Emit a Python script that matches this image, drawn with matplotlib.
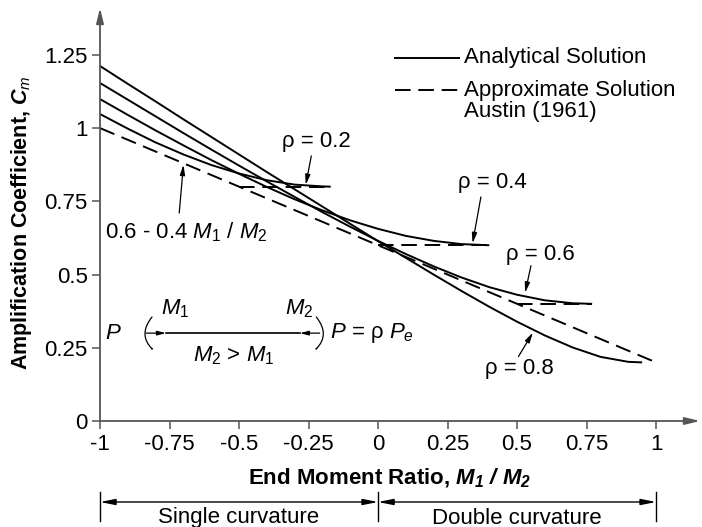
import matplotlib.pyplot as plt
from matplotlib import transforms
from matplotlib.patches import FancyArrowPatch

plt.rcParams['font.family'] = ['Liberation Sans', 'DejaVu Sans']
plt.rcParams['mathtext.fontset'] = 'custom'
plt.rcParams['mathtext.rm'] = 'Liberation Sans'
plt.rcParams['mathtext.it'] = 'Liberation Sans:italic'
plt.rcParams['mathtext.bf'] = 'Liberation Sans:bold'
plt.rcParams['mathtext.bfit'] = 'Liberation Sans:bold:italic'

# analytical solution curves (end moment ratio, Cm)
r_02 = [-1.0, -0.9, -0.8, -0.7, -0.6, -0.5, -0.4, -0.3, -0.2, -0.17]
cm_02 = [1.048, 0.998, 0.951, 0.910, 0.874, 0.845, 0.822, 0.807, 0.801, 0.800]

r_04 = [-1.0, -0.9, -0.8, -0.7, -0.6, -0.5, -0.4, -0.3, -0.2, -0.1, 0.0, 0.1, 0.2, 0.3, 0.4]
cm_04 = [1.099, 1.045, 0.992, 0.941, 0.891, 0.844, 0.799, 0.757, 0.719, 0.685, 0.656,
         0.632, 0.615, 0.604, 0.600]

r_06 = [-1.0, -0.9, -0.8, -0.7, -0.6, -0.5, -0.4, -0.3, -0.2, -0.1, 0.0, 0.1, 0.2, 0.3,
        0.4, 0.5, 0.6, 0.7, 0.77]
cm_06 = [1.154, 1.097, 1.040, 0.983, 0.927, 0.872, 0.818, 0.765, 0.713, 0.663, 0.615,
         0.570, 0.528, 0.490, 0.457, 0.431, 0.412, 0.402, 0.400]

r_08 = [-1.0, -0.9, -0.8, -0.7, -0.6, -0.5, -0.4, -0.3, -0.2, -0.1, 0.0, 0.1, 0.2, 0.3,
        0.4, 0.5, 0.6, 0.7, 0.8, 0.9, 0.95]
cm_08 = [1.212, 1.151, 1.091, 1.030, 0.970, 0.910, 0.850, 0.791, 0.732, 0.673, 0.614,
         0.557, 0.500, 0.444, 0.390, 0.339, 0.292, 0.251, 0.219, 0.202, 0.200]

# approximate solution (Austin 1961) and its lower limits
austin_r = [-1.0, 1.0]
austin_cm = [1.0, 0.2]
floor_r = [(-0.5, -0.17), (0.0, 0.4), (0.5, 0.77)]
floor_cm = [0.8, 0.6, 0.4]

xticks = [-1, -0.75, -0.5, -0.25, 0, 0.25, 0.5, 0.75, 1]
xticklabels = ['-1', '-0.75', '-0.5', '-0.25', '0', '0.25', '0.5', '0.75', '1']
yticks = [0, 0.25, 0.5, 0.75, 1, 1.25]
yticklabels = ['0', '0.25', '0.5', '0.75', '1', '1.25']

W, H = 702, 527
fs = 16
fig = plt.figure(figsize=(W / 100, H / 100), dpi=100)
ax = fig.add_axes([100 / W, 106 / H, 600 / W, 413 / H])
ax.set_xlim(-1, 1.158)
ax.set_ylim(0, 1.41)

lw = 1.4
dash = (0, (8, 4))
for r, cm in [(r_02, cm_02), (r_04, cm_04), (r_06, cm_06), (r_08, cm_08)]:
    ax.plot(r, cm, color='black', lw=lw, solid_capstyle='butt')
ax.plot(austin_r, austin_cm, color='black', lw=lw, linestyle=dash)
for (a, b), c in zip(floor_r, floor_cm):
    ax.plot([a, b], [c, c], color='black', lw=lw, linestyle=dash)

# axes with arrow heads
for s in ax.spines.values():
    s.set_visible(False)
axcol = '#555555'
ax.annotate('', xy=(1, 0), xytext=(0, 0), xycoords='axes fraction',
            arrowprops=dict(arrowstyle='-|>,head_length=0.9,head_width=0.22',
                            lw=1.3, color=axcol, shrinkA=0, shrinkB=0))
ax.annotate('', xy=(0, 1), xytext=(0, 0), xycoords='axes fraction',
            arrowprops=dict(arrowstyle='-|>,head_length=0.9,head_width=0.22',
                            lw=1.3, color=axcol, shrinkA=0, shrinkB=0))
ax.set_xticks(xticks)
ax.set_xticklabels(xticklabels)
ax.set_yticks(yticks)
ax.set_yticklabels(yticklabels)
ax.tick_params(direction='out', length=6, width=1.1, color=axcol,
               labelsize=fs, pad=3)

fig.text(390 / W, 1 - 478 / H, 'End Moment Ratio, $\\mathbfit{M_1}$ $\\mathbfit{/}$ $\\mathbfit{M_2}$',
         ha='center', va='center', fontsize=fs, fontweight='bold')
fig.text(22 / W, 1 - 223 / H, 'Amplification Coefficient, $\\mathbfit{C}_{\\mathit{m}}$',
         ha='center', va='center', rotation=90, fontsize=15.5, fontweight='bold')

# legend
ax.plot([0.06, 0.29], [1.24, 1.24], color='black', lw=lw)
ax.plot([0.06, 0.29], [1.13, 1.13], color='black', lw=lw, linestyle=dash)
ax.text(0.31, 1.24, 'Analytical Solution', fontsize=fs, va='center')
ax.text(0.31, 1.13, 'Approximate Solution', fontsize=fs, va='center')
ax.text(0.31, 1.055, 'Austin (1961)', fontsize=fs, va='center')

# curve labels with arrows
arrow_kw = dict(arrowstyle='-|>,head_length=0.6,head_width=0.15', lw=0.9,
                color='black', shrinkA=0, shrinkB=0)
labels = [
    ('ρ = 0.2', (-0.22, 0.955), (-0.24, 0.905), (-0.26, 0.806)),
    ('ρ = 0.4', (0.41, 0.815), (0.37, 0.765), (0.34, 0.607)),
    ('ρ = 0.6', (0.585, 0.57), (0.55, 0.53), (0.529, 0.438)),
    ('ρ = 0.8', (0.51, 0.18), (0.505, 0.22), (0.557, 0.302)),
    ('0.6 - 0.4 $\\mathit{M_1}$ / $\\mathit{M_2}$', (-0.69, 0.645), (-0.715, 0.71), (-0.70, 0.875)),
]
for txt, pos, start, tip in labels:
    ax.text(pos[0], pos[1], txt, fontsize=fs, ha='center', va='center')
    ax.annotate('', xy=tip, xytext=start, arrowprops=arrow_kw)

# loading sketch
ax.plot([-0.763, -0.281], [0.30, 0.30], color='black', lw=1.2)
ax.text(-0.953, 0.30, '$\\mathit{P}$', fontsize=fs, ha='center', va='center')
ax.text(-0.173, 0.30, '$\\mathit{P}$ = ρ $\\mathit{P_e}$', fontsize=fs, ha='left', va='center')
ax.text(-0.73, 0.385, '$\\mathit{M_1}$', fontsize=fs, ha='center', va='center')
ax.text(-0.285, 0.385, '$\\mathit{M_2}$', fontsize=fs, ha='center', va='center')
ax.text(-0.518, 0.222, '$\\mathit{M_2}$ > $\\mathit{M_1}$', fontsize=fs, ha='center', va='center')
small_kw = dict(arrowstyle='-|>,head_length=0.5,head_width=0.13', lw=0.9,
                color='black', shrinkA=0, shrinkB=0)
ax.annotate('', xy=(-0.763, 0.30), xytext=(-0.835, 0.30), arrowprops=small_kw)
ax.annotate('', xy=(-0.281, 0.30), xytext=(-0.21, 0.30), arrowprops=small_kw)
ax.add_patch(FancyArrowPatch((-0.813, 0.355), (-0.806, 0.24), connectionstyle='arc3,rad=0.45',
                             **small_kw))
ax.add_patch(FancyArrowPatch((-0.222, 0.355), (-0.229, 0.24), connectionstyle='arc3,rad=-0.45',
                             **small_kw))

# curvature ranges below the axis
trans = transforms.blended_transform_factory(ax.transData, fig.transFigure)
yb = 1 - 502 / H
range_kw = dict(arrowstyle='<|-|>,head_length=0.9,head_width=0.18', lw=1.0,
                color='black', shrinkA=0, shrinkB=0)
ax.annotate('', xy=(0, yb), xytext=(-1, yb), xycoords=trans, textcoords=trans,
            arrowprops=range_kw, annotation_clip=False)
ax.annotate('', xy=(1, yb), xytext=(0, yb), xycoords=trans, textcoords=trans,
            arrowprops=range_kw, annotation_clip=False)
for xv in [-1, 0, 1]:
    ax.plot([xv, xv], [1 - 492 / H, 1 - 521 / H], color='black', lw=1.0,
            transform=trans, clip_on=False)
ax.text(-0.5, 1 - 518 / H, 'Single curvature', transform=trans, ha='center', va='center',
        fontsize=fs)
ax.text(0.5, 1 - 518 / H, 'Double curvature', transform=trans, ha='center', va='center',
        fontsize=fs)

fig.savefig('out.png', dpi=100)
